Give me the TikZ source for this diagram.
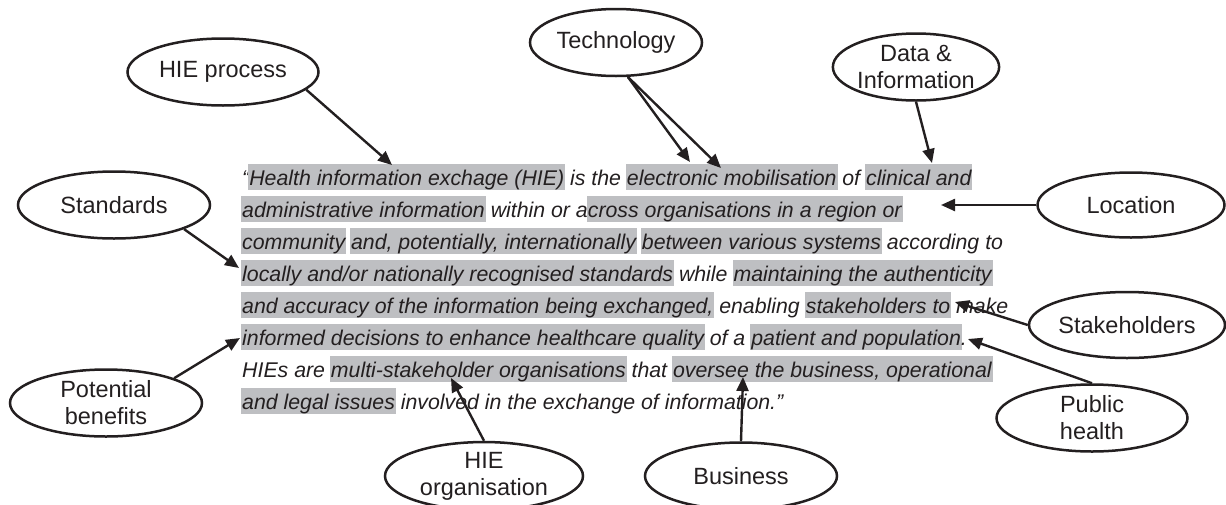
\documentclass[tikz,border=0pt]{standalone}
\usepackage{fontspec}
\setmainfont{Liberation Sans}
\usetikzlibrary{shapes.geometric,arrows.meta}
\definecolor{hlc}{RGB}{190,191,194}
\definecolor{ink}{RGB}{35,31,32}
\newcommand\hl[1]{\setbox0=\hbox{#1}\rlap{\kern-1pt\textcolor{hlc}{\rule[-4.5pt]{\dimexpr\wd0+2pt\relax}{25.5pt}}}\box0\relax}
\tikzset{
  bubble/.style={ellipse,draw=ink,line width=2.5pt,inner sep=0pt,align=center,text=ink,
    font=\fontsize{23.5}{27}\selectfont},
  txt/.style={anchor=base west,inner sep=0pt,text=ink,font=\fontsize{21.3}{32}\selectfont\itshape},
  arr/.style={draw=ink,line width=2.4pt,-{Triangle[length=14pt,width=12pt]}}
}
\begin{document}
\begin{tikzpicture}[x=1pt,y=-1pt]
\useasboundingbox (0,0) rectangle (1226,504);
\clip (0,0) rectangle (1226,504);
% text lines
\node[txt] (l1) at (242,185) {“\hl{Health information exchage (HIE)} is the \hl{electronic mobilisation} of \hl{clinical and}};
\node[txt] (l2) at (242,217) {\hl{administrative information} within or a\hl{cross organisations in a region or}};
\node[txt] (l3) at (242,249) {\hl{community} \hl{and, potentially, internationally} \hl{between various systems} according to};
\node[txt] (l4) at (242,281) {\hl{locally and/or nationally recognised standards} while \hl{maintaining the authenticity}};
\node[txt] (l5) at (242,313) {\hl{and accuracy of the information being exchanged,} enabling \hl{stakeholders to} make};
\node[txt] (l6) at (242,345) {\hl{informed decisions to enhance healthcare quality} of a \hl{patient and population}.};
\node[txt] (l7) at (242,377) {HIEs are \hl{multi-stakeholder organisations} that \hl{oversee the business, operational}};
\node[txt] (l8) at (242,409) {\hl{and legal issues} involved in the exchange of information.”};
% bubbles
\node[bubble,minimum width=191pt,minimum height=67pt] (hiep) at (223,72) {HIE process};
\node[bubble,minimum width=172pt,minimum height=67pt] (tech) at (616,42.5) {Technology};
\node[bubble,minimum width=159pt,minimum height=67pt] (data) at (916,67) {Data \&\\Information};
\node[bubble,minimum width=187pt,minimum height=65pt] (loc) at (1131,205) {Location};
\node[bubble,minimum width=192pt,minimum height=67pt] (std) at (114,205) {Standards};
\node[bubble,minimum width=192pt,minimum height=67pt] (pot) at (106,403) {Potential\\benefits};
\node[bubble,minimum width=198pt,minimum height=67pt] (org) at (484,476) {HIE\\organisation};
\node[bubble,minimum width=192pt,minimum height=67pt] (bus) at (741,476) {Business};
\node[bubble,minimum width=196pt,minimum height=66pt] (stk) at (1127,325) {Stakeholders};
\node[bubble,minimum width=191pt,minimum height=67pt] (pub) at (1092,418) {Public\\health};
% arrow tips
\coordinate (tA) at (392,165);
\coordinate (tB1) at (690,162);
\coordinate (tB2) at (721,168);
\coordinate (tC) at (932,163);
\coordinate (tD) at (941,205);
\coordinate (tE) at (239,268);
\coordinate (tF) at (240,338);
\coordinate (tG) at (451,378);
\coordinate (tH) at (743,377);
\coordinate (tI) at (955,302);
\coordinate (tJ) at (968,339);
% connectors
\draw[arr] (hiep.-12) -- (tA);
\draw[arr] (tech.-71) -- (tB1);
\draw[arr] (tech.-71) -- (tB2);
\draw[arr] (data.south) -- (tC);
\draw[arr] (loc.west) -- (tD);
\draw[arr] (std.-19) -- (tE);
\draw[arr] (pot.20) -- (tF);
\draw[arr] (org.north) -- (tG);
\draw[arr] (bus.north) -- (tH);
\draw[arr] (stk.west) -- (tI);
\draw[arr] (pub.north) -- (tJ);
\end{tikzpicture}
\end{document}
